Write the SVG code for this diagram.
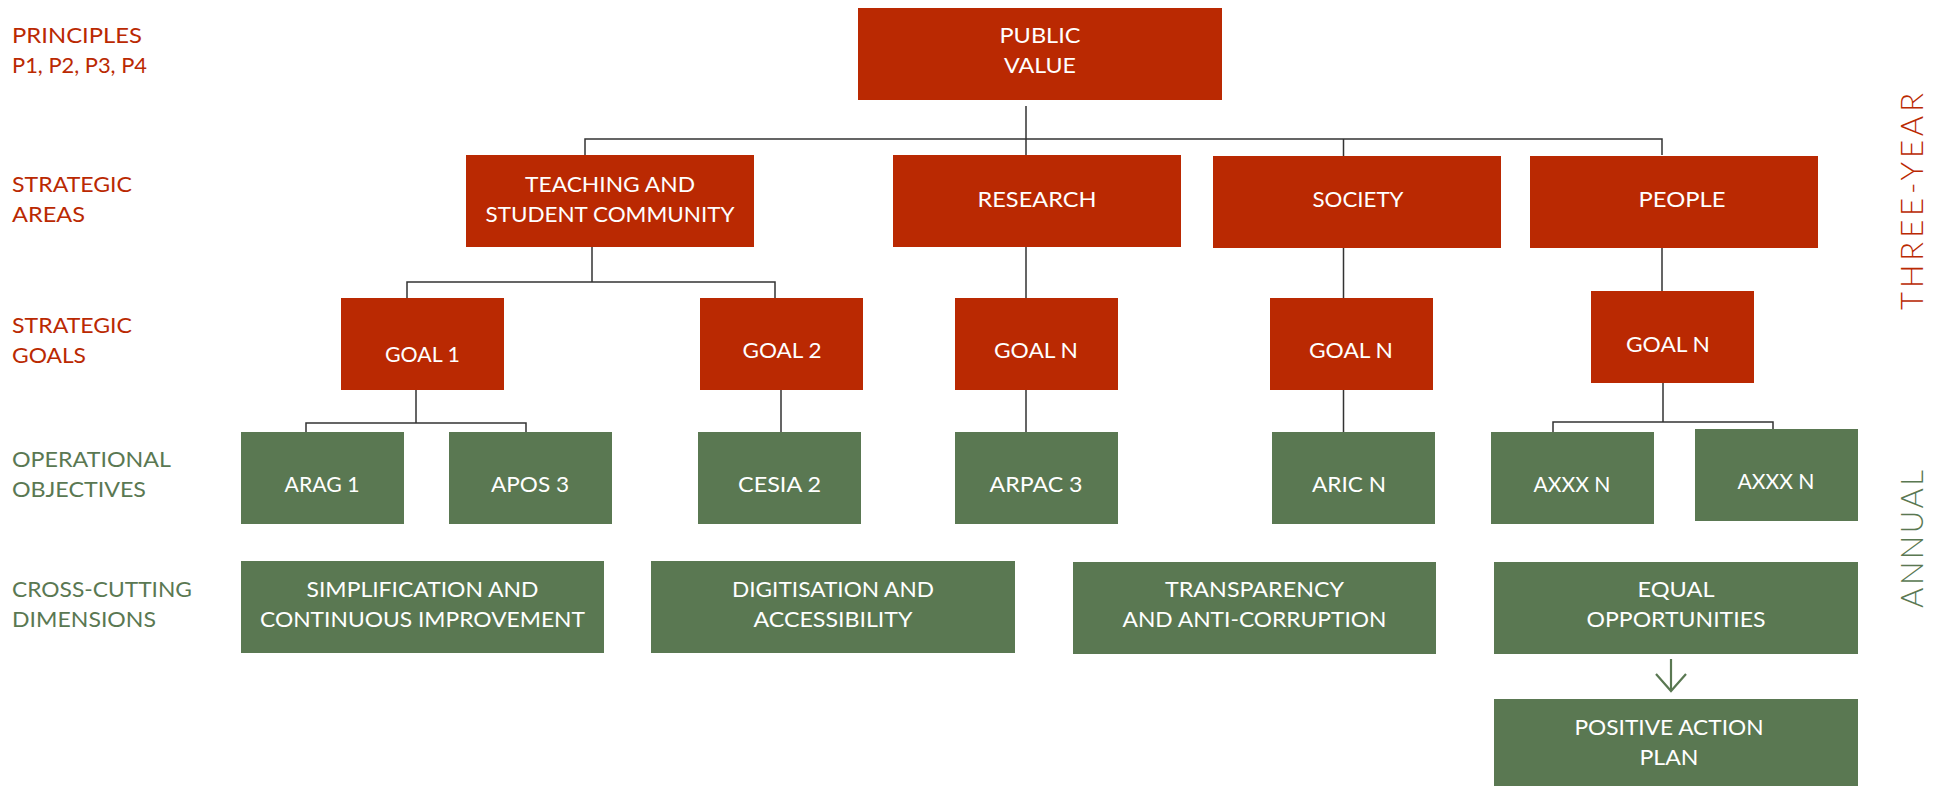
<svg xmlns="http://www.w3.org/2000/svg" width="1938" height="786" viewBox="0 0 1938 786">
<defs>
<style>
.red{fill:#BA2902}
.grn{fill:#5A7852}
text{font-family:Lato,"Liberation Sans",sans-serif;font-size:21px;font-weight:400}
.bt{fill:#FFFFFF;text-anchor:middle}
.lr{fill:#BA2902}
.lg{fill:#5A7852}
.side{font-size:31px;text-anchor:middle;font-weight:300}
.con{fill:none;stroke:#333333;stroke-width:1.5}
</style>
<marker id="chev" markerWidth="34" markerHeight="22" refX="17" refY="19" orient="0" markerUnits="userSpaceOnUse">
<path d="M2,2 L17,19 L32,2" fill="none" stroke="#5A7852" stroke-width="2.2"/>
</marker>
</defs>
<rect width="1938" height="786" fill="#FFFFFF"/>

<g id="labels">
<text class="lr" x="12" y="43" textLength="130" lengthAdjust="spacingAndGlyphs">PRINCIPLES</text>
<text class="lr" x="12" y="73" textLength="135" lengthAdjust="spacingAndGlyphs">P1, P2, P3, P4</text>
<text class="lr" x="12" y="192" textLength="120" lengthAdjust="spacingAndGlyphs">STRATEGIC</text>
<text class="lr" x="12" y="222" textLength="73" lengthAdjust="spacingAndGlyphs">AREAS</text>
<text class="lr" x="12" y="333" textLength="120" lengthAdjust="spacingAndGlyphs">STRATEGIC</text>
<text class="lr" x="12" y="363" textLength="74" lengthAdjust="spacingAndGlyphs">GOALS</text>
<text class="lg" x="12" y="467" textLength="159" lengthAdjust="spacingAndGlyphs">OPERATIONAL</text>
<text class="lg" x="12" y="497" textLength="134" lengthAdjust="spacingAndGlyphs">OBJECTIVES</text>
<text class="lg" x="12" y="597" textLength="180" lengthAdjust="spacingAndGlyphs">CROSS-CUTTING</text>
<text class="lg" x="12" y="627" textLength="144" lengthAdjust="spacingAndGlyphs">DIMENSIONS</text>
<text class="lr side" transform="translate(1923,201.5) rotate(-90)" textLength="217" lengthAdjust="spacing">THREE-YEAR</text>
<text class="lg side" transform="translate(1923,539) rotate(-90)" textLength="138" lengthAdjust="spacing">ANNUAL</text>
</g>

<g id="connectors">
<path class="con" d="M1026,106 V139 M585,155 V139 H1662 V155 M1026,139 V155 M1343.5,139 V156"/>
<path class="con" d="M592,247 V282 M407,298 V282 H775 V298"/>
<path class="con" d="M1026,247 V298 M1343.5,248 V298 M1662,248 V291"/>
<path class="con" d="M416,390 V423 M306,432 V423 H526 V432"/>
<path class="con" d="M781,390 V432 M1026,390 V432 M1343.5,390 V432"/>
<path class="con" d="M1663,383 V422 M1553,432 V422 H1773 V429"/>
<path d="M1671,659 V691" fill="none" stroke="#5A7852" stroke-width="2.2" marker-end="url(#chev)"/>
</g>

<g id="public-value"><rect class="red" x="858" y="8" width="364" height="92"/>
<text class="bt" x="1040" y="43" textLength="81" lengthAdjust="spacingAndGlyphs">PUBLIC</text>
<text class="bt" x="1040" y="73" textLength="72" lengthAdjust="spacingAndGlyphs">VALUE</text></g>

<g id="teaching"><rect class="red" x="466" y="155" width="288" height="92"/>
<text class="bt" x="610" y="192" textLength="170" lengthAdjust="spacingAndGlyphs">TEACHING AND</text>
<text class="bt" x="610" y="222" textLength="249" lengthAdjust="spacingAndGlyphs">STUDENT COMMUNITY</text></g>

<g id="research"><rect class="red" x="893" y="155" width="288" height="92"/>
<text class="bt" x="1037" y="207" textLength="119" lengthAdjust="spacingAndGlyphs">RESEARCH</text></g>

<g id="society"><rect class="red" x="1213" y="156" width="288" height="92"/>
<text class="bt" x="1358" y="207" textLength="91" lengthAdjust="spacingAndGlyphs">SOCIETY</text></g>

<g id="people"><rect class="red" x="1530" y="156" width="288" height="92"/>
<text class="bt" x="1682" y="207" textLength="87" lengthAdjust="spacingAndGlyphs">PEOPLE</text></g>

<g id="goal-1"><rect class="red" x="341" y="298" width="163" height="92"/>
<text class="bt" x="422.5" y="362" textLength="75" lengthAdjust="spacingAndGlyphs">GOAL 1</text></g>

<g id="goal-2"><rect class="red" x="700" y="298" width="163" height="92"/>
<text class="bt" x="782" y="358" textLength="79" lengthAdjust="spacingAndGlyphs">GOAL 2</text></g>

<g id="goal-n-research"><rect class="red" x="955" y="298" width="163" height="92"/>
<text class="bt" x="1036" y="358" textLength="84" lengthAdjust="spacingAndGlyphs">GOAL N</text></g>

<g id="goal-n-society"><rect class="red" x="1270" y="298" width="163" height="92"/>
<text class="bt" x="1351" y="358" textLength="84" lengthAdjust="spacingAndGlyphs">GOAL N</text></g>

<g id="goal-n-people"><rect class="red" x="1591" y="291" width="163" height="92"/>
<text class="bt" x="1668" y="352" textLength="84" lengthAdjust="spacingAndGlyphs">GOAL N</text></g>

<g id="arag-1"><rect class="grn" x="241" y="432" width="163" height="92"/>
<text class="bt" x="322" y="492" textLength="75" lengthAdjust="spacingAndGlyphs">ARAG 1</text></g>

<g id="apos-3"><rect class="grn" x="449" y="432" width="163" height="92"/>
<text class="bt" x="530" y="492" textLength="78" lengthAdjust="spacingAndGlyphs">APOS 3</text></g>

<g id="cesia-2"><rect class="grn" x="698" y="432" width="163" height="92"/>
<text class="bt" x="779.5" y="492" textLength="83" lengthAdjust="spacingAndGlyphs">CESIA 2</text></g>

<g id="arpac-3"><rect class="grn" x="955" y="432" width="163" height="92"/>
<text class="bt" x="1036" y="492" textLength="93" lengthAdjust="spacingAndGlyphs">ARPAC 3</text></g>

<g id="aric-n"><rect class="grn" x="1272" y="432" width="163" height="92"/>
<text class="bt" x="1349" y="492" textLength="74" lengthAdjust="spacingAndGlyphs">ARIC N</text></g>

<g id="axxx-n-1"><rect class="grn" x="1491" y="432" width="163" height="92"/>
<text class="bt" x="1572" y="492" textLength="77" lengthAdjust="spacingAndGlyphs">AXXX N</text></g>

<g id="axxx-n-2"><rect class="grn" x="1695" y="429" width="163" height="92"/>
<text class="bt" x="1776" y="489" textLength="77" lengthAdjust="spacingAndGlyphs">AXXX N</text></g>

<g id="simplification"><rect class="grn" x="241" y="561" width="363" height="92"/>
<text class="bt" x="422.5" y="597" textLength="232" lengthAdjust="spacingAndGlyphs">SIMPLIFICATION AND</text>
<text class="bt" x="422.5" y="627" textLength="325" lengthAdjust="spacingAndGlyphs">CONTINUOUS IMPROVEMENT</text></g>

<g id="digitisation"><rect class="grn" x="651" y="561" width="364" height="92"/>
<text class="bt" x="833" y="597" textLength="202" lengthAdjust="spacingAndGlyphs">DIGITISATION AND</text>
<text class="bt" x="833" y="627" textLength="159" lengthAdjust="spacingAndGlyphs">ACCESSIBILITY</text></g>

<g id="transparency"><rect class="grn" x="1073" y="562" width="363" height="92"/>
<text class="bt" x="1254.5" y="597" textLength="179" lengthAdjust="spacingAndGlyphs">TRANSPARENCY</text>
<text class="bt" x="1254.5" y="627" textLength="264" lengthAdjust="spacingAndGlyphs">AND ANTI-CORRUPTION</text></g>

<g id="equal-opportunities"><rect class="grn" x="1494" y="562" width="364" height="92"/>
<text class="bt" x="1676" y="597" textLength="77" lengthAdjust="spacingAndGlyphs">EQUAL</text>
<text class="bt" x="1676" y="627" textLength="179" lengthAdjust="spacingAndGlyphs">OPPORTUNITIES</text></g>

<g id="positive-action-plan"><rect class="grn" x="1494" y="699" width="364" height="92"/>
<text class="bt" x="1669" y="735" textLength="189" lengthAdjust="spacingAndGlyphs">POSITIVE ACTION</text>
<text class="bt" x="1669" y="765" textLength="59" lengthAdjust="spacingAndGlyphs">PLAN</text></g>
</svg>
